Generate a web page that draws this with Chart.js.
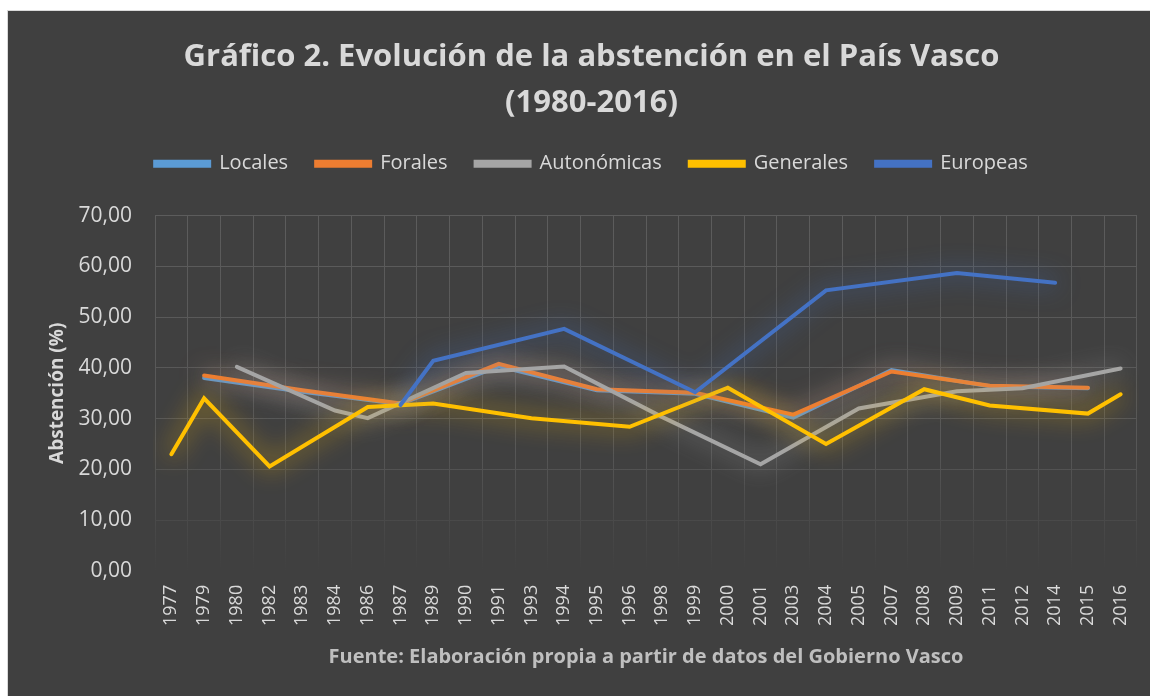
<!DOCTYPE html>
<html>
<head>
<meta charset="utf-8">
<script src="https://cdn.jsdelivr.net/npm/chart.js@4"></script>
<style>
  html, body { margin: 0; padding: 0; background: #ffffff; }
  #marco {
    position: absolute; left: 7px; top: 10px;
    width: 1142px; height: 685px;
    background: #404040;
    border-top: 1px solid #d9d9d9; border-left: 1px solid #d9d9d9;
  }
  canvas { display: block; }
</style>
</head>
<body>
<div id="marco"><canvas id="grafico" width="1142" height="685"></canvas></div>
<script>
const anios = ['1977','1979','1980','1982','1983','1984','1986','1987','1989','1990',
  '1991','1993','1994','1995','1996','1998','1999','2000','2001','2003',
  '2004','2005','2007','2008','2009','2011','2012','2014','2015','2016'];

const locales = [null,38.0,null,null,35.3,null,null,32.9,null,null,
  40.3,null,null,35.6,null,null,34.9,null,null,30.2,
  null,null,39.6,null,null,36.4,null,null,36.0,null];

const forales = [null,38.5,null,null,35.6,null,null,33.0,null,null,
  40.8,null,null,35.8,null,null,35.1,null,null,30.8,
  null,null,39.3,null,null,36.5,null,null,36.1,null];

const autonomicas = [null,null,40.2,null,null,31.6,30.1,null,null,39.0,
  null,null,40.3,null,null,30.3,null,null,21.0,null,
  null,32.0,null,null,35.4,null,36.0,null,null,39.9];

const generales = [23.0,34.0,null,20.6,null,null,32.3,null,33.0,null,
  null,30.1,null,null,28.4,null,null,36.1,null,null,
  25.0,null,null,35.8,null,32.6,null,null,31.0,34.8];

const europeas = [null,null,null,null,null,null,null,32.7,41.4,null,
  null,null,47.7,null,null,null,35.2,null,null,null,
  55.3,null,null,null,58.7,null,null,56.8,null,null];

const series = [
  { nombre: 'Locales', datos: locales, color: '#5B9BD5' },
  { nombre: 'Forales', datos: forales, color: '#ED7D31' },
  { nombre: 'Autonómicas', datos: autonomicas, color: '#A5A5A5' },
  { nombre: 'Generales', datos: generales, color: '#FFC000' },
  { nombre: 'Europeas', datos: europeas, color: '#4472C4' }
];

const texto = '#d9d9d9';
const fuente = "'Open Sans', 'DejaVu Sans', sans-serif";

// brillo suave alrededor de cada línea
const brillo = {
  id: 'brillo',
  beforeDatasetDraw(chart, args) {
    const ctx = chart.ctx;
    ctx.save();
    ctx.shadowColor = args.meta.dataset.options.borderColor + 'ee';
    ctx.shadowBlur = 24;
  },
  afterDatasetDraw(chart) {
    chart.ctx.restore();
  }
};

// más aire entre la leyenda y el gráfico
const espacioLeyenda = {
  id: 'espacioLeyenda',
  beforeInit(chart) {
    const fitOriginal = chart.legend.fit;
    chart.legend.fit = function() {
      fitOriginal.bind(chart.legend)();
      this.height += 32;
    };
  }
};

function colorRejilla(context) {
  const area = context.chart.chartArea;
  if (!area) return '#595959';
  const g = context.chart.ctx.createLinearGradient(0, area.top, 0, area.bottom);
  g.addColorStop(0, '#5c5c5c');
  g.addColorStop(0.65, '#575757');
  g.addColorStop(1, '#404040');
  return g;
}

const ctx = document.getElementById('grafico').getContext('2d');
new Chart(ctx, {
  type: 'line',
  data: {
    labels: anios,
    datasets: series.map((s, i) => ({
      label: s.nombre,
      data: s.datos,
      borderColor: s.color,
      backgroundColor: s.color,
      borderWidth: 4,
      pointRadius: 0,
      pointHoverRadius: 0,
      spanGaps: true,
      tension: 0,
      borderCapStyle: 'round',
      order: series.length - i
    }))
  },
  options: {
    responsive: false,
    animation: false,
    layout: { padding: { left: 38, right: 13, top: 0, bottom: 27 } },
    plugins: {
      title: {
        display: true,
        text: ['Gráfico 2. Evolución de la abstención en el País Vasco', '(1980-2016)'],
        color: texto,
        font: { family: fuente, size: 31, weight: 'bold', lineHeight: 1.48 },
        padding: { top: 23, bottom: 0 }
      },
      legend: {
        labels: {
          color: texto,
          font: { family: fuente, size: 20 },
          boxWidth: 54,
          boxHeight: 4,
          padding: 28,
          sort: (a, b) => a.datasetIndex - b.datasetIndex
        }
      },
      tooltip: { enabled: false }
    },
    scales: {
      x: {
        offset: true,
        grid: { color: colorRejilla, drawTicks: false, offset: true },
        border: { display: false },
        afterFit(scale) {
          scale.paddingLeft = 0;
          scale.paddingRight = 0;
        },
        ticks: {
          color: texto,
          font: { family: fuente, size: 18 },
          minRotation: 90, maxRotation: 90,
          autoSkip: false,
          padding: 14
        },
        title: {
          display: true,
          text: 'Fuente: Elaboración propia a partir de datos del Gobierno Vasco',
          color: '#bfbfbf',
          font: { family: fuente, size: 20, weight: 'bold' },
          padding: { top: 5, bottom: 0 }
        }
      },
      y: {
        min: 0, max: 70,
        grid: { color: colorRejilla, drawTicks: false },
        border: { display: false },
        afterFit(scale) {
          scale.width = 109;
        },
        ticks: {
          color: texto,
          stepSize: 10,
          font: { family: fuente, size: 21 },
          padding: 23,
          callback: v => v.toFixed(2).replace('.', ',')
        },
        title: {
          display: true,
          text: 'Abstención (%)',
          color: texto,
          font: { family: fuente, size: 19, weight: 'bold' },
          padding: { top: 0, bottom: 9 }
        }
      }
    }
  },
  plugins: [brillo, espacioLeyenda]
});
</script>
</body>
</html>
